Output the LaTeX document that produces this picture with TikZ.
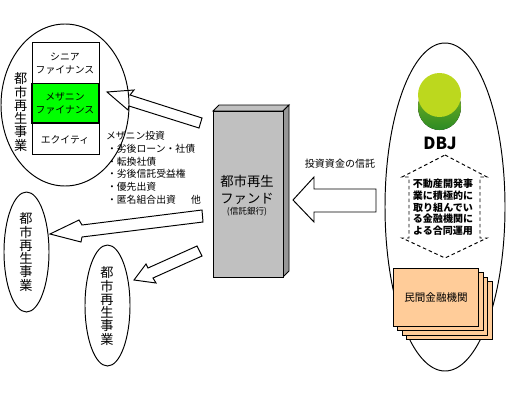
\documentclass[tikz,border=0pt]{standalone}
\usepackage{fontspec}
\setmainfont{Noto Sans CJK JP}
\definecolor{mezgreen}{HTML}{00FF00}
\definecolor{fundgray}{HTML}{C0C0C0}
\definecolor{funddark}{HTML}{969696}
\definecolor{bankfill}{HTML}{FFCC99}
\definecolor{logolime}{HTML}{BCD81E}
\definecolor{logodark}{HTML}{2C8A24}
\newcommand{\jpsize}[1]{\fontsize{#1}{#1}\selectfont}
\tikzset{
  thinline/.style={line width=0.55pt},
  blockarrow/.style={thinline, line join=miter},
  tightlabel/.style={inner sep=0pt, outer sep=0pt, align=center},
  kanalabel/.style={tightlabel, font=\jpsize{5.6}},
  bigtate/.style={tightlabel, font=\fontsize{7.5}{7.55}\selectfont},
  bankcard/.style={thinline, fill=bankfill},
}
\begin{document}
\begin{tikzpicture}[x=0.02cm, y=-0.02cm]
  \useasboundingbox (0,0) rectangle (506,402);

  % -- Project ellipses --
  \draw[thinline] (65,105) ellipse [x radius=64, y radius=81];
  \draw[thinline] (26.5,252) ellipse [x radius=22.5, y radius=60];
  \draw[thinline] (107.5,305.5) ellipse [x radius=22.5, y radius=60.5];
  \node[bigtate] (projectA) at (20.7,112) {都\\市\\再\\生\\事\\業};
  \node[bigtate] (projectB) at (26,252) {都\\市\\再\\生\\事\\業};
  \node[bigtate] (projectC) at (107,306) {都\\市\\再\\生\\事\\業};

  % -- Capital stack --
  \draw[thinline] (32,42) rectangle (99,154);
  \draw[line width=1.1pt, fill=mezgreen] (32,83.5) rectangle (99,123);
  \draw[thinline] (32,42) rectangle (99,154);
  \node[kanalabel] (senior) at (65,63.5) {シニア\\[1.6pt]ファイナンス};
  \node[kanalabel] (mezz) at (65,103.5) {メザニン\\[1.6pt]ファイナンス};
  \node[kanalabel] (equity) at (65,139.5) {エクイティ};

  % -- Mezzanine list --
  \node[tightlabel, font=\jpsize{5.6}, align=left, anchor=north west] (mezzlist) at (106,131.5)
    {メザニン投資\\[1.6pt]
     \hspace{0.6pt}・劣後ローン・社債\\[1.6pt]
     \hspace{0.6pt}・転換社債\\[1.6pt]
     \hspace{0.6pt}・劣後信託受益権\\[1.6pt]
     \hspace{0.6pt}・優先出資\\[1.6pt]
     \hspace{0.6pt}・匿名組合出資\hspace{8.6pt}他};

  % -- Arrows out of the fund --
  \draw[blockarrow] (107,92) -- (134,90) -- (130,95) -- (202,118) -- (199,128) -- (129,106) -- (128,110) -- cycle;
  \draw[blockarrow] (50,234) -- (79,220) -- (82,225) -- (202,210) -- (203,222) -- (82,237) -- (81,242) -- cycle;
  \draw[blockarrow] (134,280) -- (146,264) -- (148,268) -- (197,246) -- (202,256) -- (153,278) -- (156,283) -- cycle;

  % -- Fund block --
  \draw[thinline, fill=fundgray] (213,111) -- (219,105) -- (289,105) -- (283,111) -- cycle;
  \draw[thinline, fill=funddark] (283,111) -- (289,105) -- (289,271) -- (283,277) -- cycle;
  \draw[thinline, fill=fundgray] (213,111) rectangle (283,277);
  \node[tightlabel, font=\jpsize{7.6}] (fundname) at (247,189.5) {都市再生\\[2pt]ファンド};
  \node[tightlabel, font=\jpsize{4.9}] (fundbank) at (247,212) {(信託銀行)};

  % -- Trust arrow --
  \draw[blockarrow] (293,200) -- (314,177) -- (314,189) -- (376,189) -- (376,212) -- (314,212) -- (314,222) -- cycle;
  \node[tightlabel, font=\jpsize{5.7}] (trustlabel) at (340,164) {投資資金の信託};

  % -- DBJ side --
  \draw[thinline] (445,207) ellipse [x radius=60, y radius=164];
  \fill[top color=logolime, bottom color=logodark, middle color=logodark!70!logolime] (439.5,107) ellipse [x radius=21.5, y radius=23];
  \fill[logolime] (439.5,95) ellipse [x radius=21.5, y radius=22];
  \node[tightlabel, font=\fontsize{9.5}{9.5}\selectfont\bfseries] (dbj) at (440,143) {DBJ};

  % -- Dashed double arrow --
  \draw[thinline, dash pattern=on 2pt off 1.6pt] (445,155) -- (487,177) -- (480,177) -- (480,238) -- (487,238) -- (445,258) -- (402,238) -- (409,238) -- (409,177) -- (402,177) -- cycle;
  \node[tightlabel, font=\fontsize{5.7}{6.65}\selectfont\bfseries] (jointtext) at (443,207.5)
    {不動産開発事\\業に積極的に\\取り組んでい\\る金融機関に\\よる合同運用};

  % -- Bank cards --
  \draw[bankcard] (406,281) rectangle (492,339);
  \draw[bankcard] (402,277) rectangle (487,335);
  \draw[bankcard] (397,272) rectangle (483,330);
  \draw[bankcard] (393,268) rectangle (478,326);
  \node[tightlabel, font=\jpsize{6}] (banks) at (436,297) {民間金融機関};
\end{tikzpicture}
\end{document}
